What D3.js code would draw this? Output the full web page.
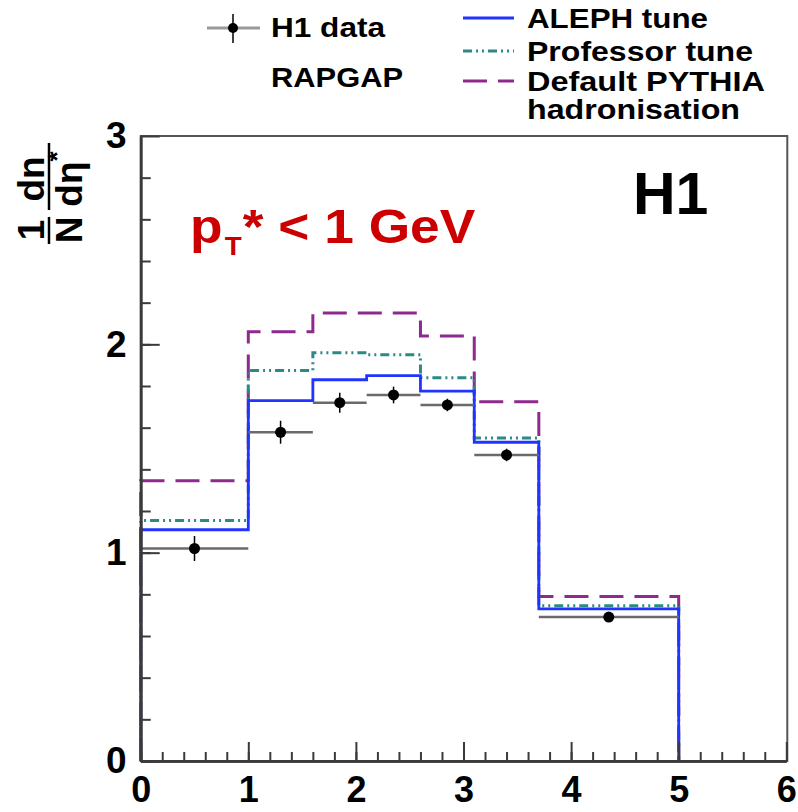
<!DOCTYPE html>
<html>
<head>
<meta charset="utf-8">
<script src="https://cdn.jsdelivr.net/npm/d3@7"></script>
<style>
  html, body { margin: 0; padding: 0; background: #fff; }
  svg { display: block; }
  text { font-family: "Liberation Sans", Arial, Helvetica, sans-serif; font-weight: bold; }
</style>
</head>
<body>
<svg id="chart" width="798" height="812"></svg>
<script>
// Bin edges in eta*
const binEdges = [0, 1, 1.6, 2.1, 2.6, 3.1, 3.7, 5];

// Model predictions per bin
const alephTune     = [1.11, 1.73, 1.83, 1.85, 1.775, 1.53, 0.73];
const professorTune = [1.155, 1.875, 1.96, 1.95, 1.84, 1.55, 0.745];
const defaultPythia = [1.345, 2.06, 2.15, 2.15, 2.04, 1.725, 0.79];

// H1 measurement: bin centres, values, statistical errors
const dataX   = [0.5, 1.3, 1.85, 2.35, 2.85, 3.4, 4.35];
const dataY   = [1.02, 1.578, 1.72, 1.757, 1.709, 1.469, 0.691];
const dataErr = [0.06, 0.055, 0.048, 0.04, 0.03, 0.03, 0.02];

// Axis ticks
const xMajorTicks = [0, 1, 2, 3, 4, 5, 6];
const yMajorTicks = [0, 1, 2, 3];

const svg = d3.select("#chart");

const x = d3.scaleLinear().domain([0, 6]).range([140.7, 786.3]);
const y = d3.scaleLinear().domain([0, 3]).range([761, 136]);

const axisColor = "#3a3a3a";

// Frame
svg.append("rect")
  .attr("x", x(0)).attr("y", y(3))
  .attr("width", x(6) - x(0) + 1).attr("height", y(0) - y(3))
  .attr("fill", "none").attr("stroke", "#555").attr("stroke-width", 2);

// Label for the transverse momentum cut (slightly widened type)
const cut = svg.append("text")
  .attr("transform", "translate(190,243) scale(1.11,1)")
  .attr("fill", "#cc0000")
  .attr("font-size", 48);
cut.append("tspan").text("p");
cut.append("tspan").attr("font-size", 25).attr("dy", 12).attr("dx", 2).text("T");
cut.append("tspan").attr("dy", -12).attr("dx", 1).text("*");
cut.append("tspan").text(" < 1 GeV");

// Experiment label
svg.append("text")
  .attr("x", 633).attr("y", 214)
  .attr("font-size", 59).attr("fill", "#000")
  .text("H1");

// Histogram path builder
function histPath(vals) {
  let p = d3.path();
  p.moveTo(x(binEdges[0]), y(0));
  vals.forEach((v, i) => {
    p.lineTo(x(binEdges[i]), y(v));
    p.lineTo(x(binEdges[i + 1]), y(v));
  });
  p.lineTo(x(binEdges[binEdges.length - 1]), y(0));
  return p.toString();
}

const series = [
  { vals: defaultPythia, color: "#8e2a8e", dash: "24 11", width: 3 },
  { vals: professorTune, color: "#2a8a86", dash: "9 4 2 4 2 4", width: 3 },
  { vals: alephTune,     color: "#2233ff", dash: null,     width: 2.8 }
];

series.forEach(s => {
  svg.append("path")
    .attr("d", histPath(s.vals))
    .attr("fill", "none")
    .attr("stroke", s.color)
    .attr("stroke-width", s.width)
    .attr("stroke-dasharray", s.dash);
});

// Data points: horizontal bin-width bars, vertical errors, markers
const pts = svg.append("g");
dataX.forEach((cx, i) => {
  pts.append("line")
    .attr("x1", x(binEdges[i])).attr("x2", x(binEdges[i + 1]))
    .attr("y1", y(dataY[i])).attr("y2", y(dataY[i]))
    .attr("stroke", "#6a6a6a").attr("stroke-width", 2.5);
  pts.append("line")
    .attr("x1", x(cx)).attr("x2", x(cx))
    .attr("y1", y(dataY[i] - dataErr[i])).attr("y2", y(dataY[i] + dataErr[i]))
    .attr("stroke", "#000").attr("stroke-width", 1.5);
  pts.append("circle")
    .attr("cx", x(cx)).attr("cy", y(dataY[i])).attr("r", 5.5)
    .attr("fill", "#000");
});

// Axes: minor ticks then major ticks with labels
function styleAxis(size) {
  return g => {
    g.select(".domain").attr("stroke", axisColor).attr("stroke-width", 2.5);
    g.selectAll(".tick line").attr("stroke", axisColor).attr("stroke-width", 2);
    g.selectAll("text").attr("fill", "#000").attr("font-size", size)
      .attr("font-family", "Liberation Sans, Arial, sans-serif").attr("font-weight", "bold");
  };
}

svg.append("g")
  .attr("transform", `translate(0,${y(0)})`)
  .call(d3.axisBottom(x).tickValues(d3.range(0, 30).map(i => i * 0.2)).tickSizeInner(-9).tickSizeOuter(0).tickFormat(""))
  .call(styleAxis(36));
svg.append("g")
  .attr("transform", `translate(0,${y(0)})`)
  .call(d3.axisBottom(x).tickValues(xMajorTicks).tickSizeInner(-19).tickSizeOuter(0).tickPadding(15).tickFormat(d3.format("d")))
  .call(styleAxis(36));

svg.append("g")
  .attr("transform", `translate(${x(0)},0)`)
  .call(d3.axisLeft(y).tickValues(d3.range(0, 15).map(i => i * 0.2)).tickSizeInner(-10).tickSizeOuter(0).tickFormat(""))
  .call(styleAxis(37));
svg.append("g")
  .attr("transform", `translate(${x(0)},0)`)
  .call(d3.axisLeft(y).tickValues(yMajorTicks).tickSizeInner(-19).tickSizeOuter(0).tickPadding(14).tickFormat(d3.format("d")))
  .call(styleAxis(37));

// Y-axis title: 1/N dn/deta*
const yt = svg.append("g").attr("transform", "translate(49,193) rotate(-90)");
const fs = 37;
function frac(cx, x0, x1, num, den) {
  const g = yt.append("g");
  g.append("line").attr("x1", x0).attr("x2", x1).attr("y1", 0).attr("y2", 0)
    .attr("stroke", "#000").attr("stroke-width", 2.5);
  const n = g.append("text").attr("x", cx).attr("y", -5).attr("text-anchor", "middle").attr("font-size", fs);
  num(n);
  const d = g.append("text").attr("x", cx).attr("y", 33).attr("text-anchor", "middle").attr("font-size", fs);
  den(d);
}
frac(-37, -51, -24, t => t.text("1"), t => t.text("N"));
frac(14, -17, 50, t => t.text("dn"), t => {
  t.append("tspan").text("d\u03b7");
  t.append("tspan").attr("font-size", 26).attr("dy", -16).text("*");
});

// Legend
const lg = svg.append("g");
const lfs = 28;
lg.append("line").attr("x1", 207).attr("x2", 260).attr("y1", 28).attr("y2", 28)
  .attr("stroke", "#9a9a9a").attr("stroke-width", 3);
lg.append("line").attr("x1", 233).attr("x2", 233).attr("y1", 14).attr("y2", 43)
  .attr("stroke", "#000").attr("stroke-width", 1.5);
lg.append("circle").attr("cx", 233).attr("cy", 28).attr("r", 5).attr("fill", "#000");
lg.append("text").attr("x", 271).attr("y", 37).attr("font-size", lfs)
  .attr("textLength", 114).attr("lengthAdjust", "spacingAndGlyphs").text("H1 data");
lg.append("text").attr("x", 271).attr("y", 87).attr("font-size", lfs)
  .attr("textLength", 132).attr("lengthAdjust", "spacingAndGlyphs").text("RAPGAP");

const legendRows = [
  { label: "ALEPH tune", s: series[2], ly: 18, ty: 28, w: 181 },
  { label: "Professor tune", s: series[1], ly: 51, ty: 61, w: 226 },
  { label: "Default PYTHIA", s: series[0], ly: 81, ty: 91, w: 238 }
];
legendRows.forEach(r => {
  lg.append("line").attr("x1", 463).attr("x2", 514).attr("y1", r.ly).attr("y2", r.ly)
    .attr("stroke", r.s.color).attr("stroke-width", r.s.width).attr("stroke-dasharray", r.s.dash);
  lg.append("text").attr("x", 527).attr("y", r.ty).attr("font-size", lfs)
    .attr("textLength", r.w).attr("lengthAdjust", "spacingAndGlyphs").text(r.label);
});
lg.append("text").attr("x", 527).attr("y", 119).attr("font-size", lfs)
  .attr("textLength", 213).attr("lengthAdjust", "spacingAndGlyphs").text("hadronisation");
</script>
</body>
</html>
